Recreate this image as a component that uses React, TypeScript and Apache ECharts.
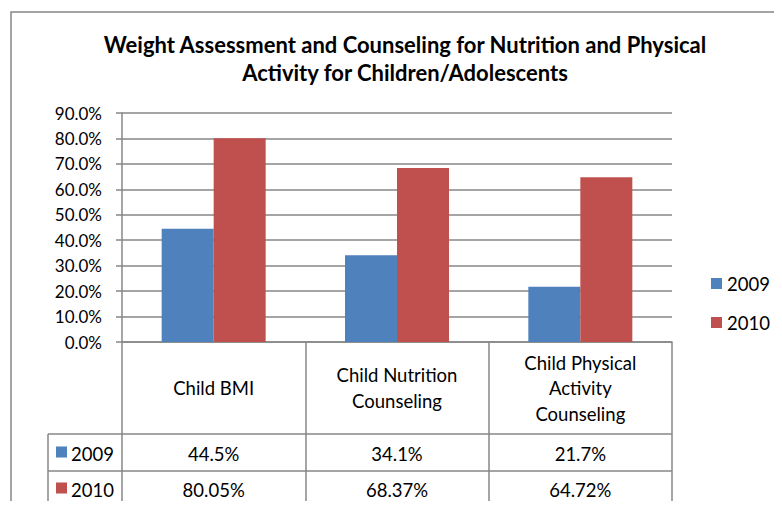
import React, { useEffect, useRef } from "react";
import * as echarts from "echarts";

// Measures and yearly rates (%)
const categories = ["Child BMI", "Child Nutrition\nCounseling", "Child Physical\nActivity\nCounseling"];
const years = ["2009", "2010"];
const rates2009 = [44.5, 34.1, 21.7];
const rates2010 = [80.05, 68.37, 64.72];
const decimals = [1, 2];
const yTicks = { min: 0, max: 90, interval: 10 };

const BLUE = "#4F81BD";
const RED = "#C0504D";
const LINE = "#878787";
const FONT = "Lato, 'Liberation Sans', sans-serif";
const FS = 18.5;

// Layout of the plot/table
const W = 782;
const H = 509;
const PL = 122;
const PR = 672;
const PT = 113;
const PB = 342;
const ROW1 = 434;
const ROW2 = 471;
const ROW3 = 506;
const TABLE_LEFT = 48;

export default function App() {
  const ref = useRef<HTMLDivElement>(null);

  useEffect(() => {
    if (!ref.current) return;
    const chart = echarts.init(ref.current, undefined, { renderer: "svg" });
    const seriesData = [rates2009, rates2010];
    const colors = [BLUE, RED];

    const valueAxis = (idx: number, margin: number) => ({
      type: "category" as const,
      data: categories,
      position: "bottom" as const,
      gridIndex: 0,
      axisLine: { show: false },
      axisTick: { show: false },
      axisLabel: {
        margin,
        verticalAlign: "middle",
        fontFamily: FONT,
        fontSize: FS,
        color: "#000",
        formatter: (_v: string, i: number) => seriesData[idx][i].toFixed(decimals[idx]) + "%",
      },
    });

    const hLine = (y: number) => ({
      type: "line",
      shape: { x1: TABLE_LEFT, y1: y, x2: PR, y2: y },
      style: { stroke: LINE, lineWidth: 1.5 },
      silent: true,
    });

    const rowLabel = (i: number, yc: number) => [
      {
        type: "rect",
        shape: { x: 56, y: yc - 6, width: 11, height: 11 },
        style: { fill: colors[i] },
      },
      {
        type: "text",
        x: 71,
        y: yc + 1,
        style: {
          text: years[i],
          fontFamily: FONT,
          fontSize: FS,
          fill: "#000",
          verticalAlign: "middle",
        },
      },
    ];

    chart.setOption({
      animation: false,
      backgroundColor: "#fff",
      title: {
        text: "Weight Assessment and Counseling for Nutrition and Physical\nActivity for Children/Adolescents",
        left: 400,
        top: 25,
        textAlign: "center",
        textStyle: {
          fontFamily: FONT,
          fontWeight: "bold",
          fontSize: 22,
          lineHeight: 28,
          color: "#000",
        },
      },
      legend: {
        data: years,
        orient: "vertical",
        left: 706,
        top: 269,
        icon: "rect",
        itemWidth: 11,
        itemHeight: 11,
        itemGap: 20,
        textStyle: { fontFamily: FONT, fontSize: FS, color: "#000" },
      },
      grid: { left: PL, right: W - PR, top: PT, bottom: H - PB, containLabel: false },
      xAxis: [
        {
          type: "category",
          data: categories,
          position: "bottom",
          axisLine: { show: true, lineStyle: { color: LINE, width: 1.5 } },
          axisTick: {
            show: true,
            alignWithLabel: false,
            length: ROW3 - PB,
            lineStyle: { color: LINE, width: 1.5 },
          },
          axisLabel: {
            margin: 46,
            verticalAlign: "middle",
            fontFamily: FONT,
            fontSize: FS,
            lineHeight: 25.5,
            color: "#000",
            interval: 0,
          },
        },
        valueAxis(0, (ROW1 + ROW2) / 2 - PB + 1),
        valueAxis(1, (ROW2 + ROW3) / 2 - PB + 1),
      ],
      yAxis: {
        type: "value",
        min: yTicks.min,
        max: yTicks.max,
        interval: yTicks.interval,
        axisLine: { show: true, lineStyle: { color: LINE, width: 1.5 } },
        axisTick: { show: true, length: 6, lineStyle: { color: LINE, width: 1.5 } },
        splitLine: { show: true, lineStyle: { color: LINE, width: 1.5 } },
        axisLabel: {
          margin: 20,
          fontFamily: FONT,
          fontSize: 17,
          color: "#000",
          formatter: (v: number) => v.toFixed(1) + "%",
        },
      },
      series: years.map((name, i) => ({
        name,
        type: "bar",
        data: seriesData[i],
        barWidth: 52,
        barGap: "0%",
        itemStyle: { color: colors[i] },
      })),
      graphic: [
        {
          type: "rect",
          shape: { x: 11, y: 12, width: 800, height: 560 },
          style: { fill: "none", stroke: LINE, lineWidth: 1.5 },
          silent: true,
        },
        hLine(ROW1),
        hLine(ROW2),
        hLine(ROW3),
        {
          type: "line",
          shape: { x1: TABLE_LEFT, y1: ROW1, x2: TABLE_LEFT, y2: ROW3 },
          style: { stroke: LINE, lineWidth: 1.5 },
          silent: true,
        },
        ...rowLabel(0, (ROW1 + ROW2) / 2),
        ...rowLabel(1, (ROW2 + ROW3) / 2),
      ],
    });

    return () => chart.dispose();
  }, []);

  return <div ref={ref} style={{ width: W, height: H, margin: -8 }} />;
}
